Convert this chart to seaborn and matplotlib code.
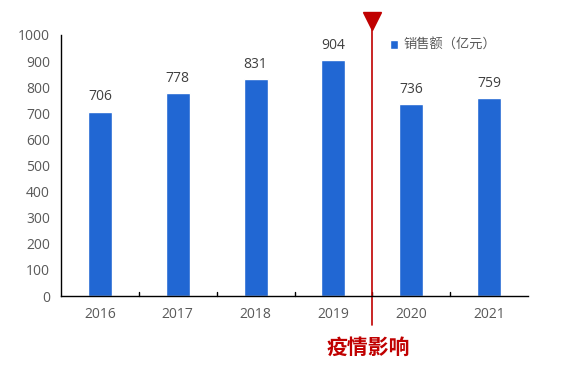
import matplotlib
matplotlib.use("Agg")
import matplotlib.pyplot as plt
import seaborn as sns
import pandas as pd

# data
years = ['2016', '2017', '2018', '2019', '2020', '2021']
sales = [706, 778, 831, 904, 736, 759]
series_name = '销售额（亿元）'
note = '疫情影响'

sns.set_style('white')
plt.rcParams['font.family'] = ['Open Sans', 'Noto Sans CJK SC', 'DejaVu Sans']

df = pd.DataFrame({'year': years, 'sales': sales})

bar_color = '#2167D3'
red = '#C00000'
grey = '#595959'

fig = plt.figure(figsize=(5.78, 3.8), dpi=100)
ax = fig.add_axes([61 / 578, 1 - 296 / 380, 467 / 578, 261 / 380])

sns.barplot(data=df, x='year', y='sales', color=bar_color, width=0.31,
            saturation=1, ax=ax, label=series_name)

for i, v in enumerate(sales):
    ax.text(i, v + 28, str(v), ha='center', va='bottom', fontsize=10, color='#404040')

ax.set_xlim(-0.5, len(years) - 0.5)
ax.set_ylim(0, 1000)
ax.set_yticks(range(0, 1001, 100))
ax.set_xlabel('')
ax.set_ylabel('')

for s in ['top', 'right']:
    ax.spines[s].set_visible(False)
for s in ['left', 'bottom']:
    ax.spines[s].set_color('black')
    ax.spines[s].set_linewidth(1)

ax.tick_params(axis='y', direction='in', length=5, labelsize=10, labelcolor=grey, color='black', pad=8)
ax.tick_params(axis='x', length=0, labelsize=10, labelcolor=grey, pad=8)
# category boundary ticks
for b in [0.5, 1.5, 2.5, 3.5, 4.5]:
    ax.plot([b, b], [0, 14], color='black', lw=1, clip_on=False)

# pandemic marker line
ax.plot([3.5, 3.5], [-110, 1065], color=red, lw=1.2, clip_on=False)
ax.plot(3.5, 1052, marker='v', markersize=13, color=red, clip_on=False)
ax.text(3.45, -195, note, ha='center', va='center', fontsize=15, fontweight='bold',
        color=red, family=['Noto Sans CJK SC', 'DejaVu Sans'])

leg = ax.legend(loc='upper left', bbox_to_anchor=(0.68, 1.03), frameon=False,
                fontsize=9.5, handlelength=0.6, handleheight=0.6, handletextpad=0.4,
                prop={'family': ['Noto Sans CJK SC', 'DejaVu Sans'], 'size': 9.5})
for t in leg.get_texts():
    t.set_color(grey)

fig.savefig('out.png', dpi=100)
